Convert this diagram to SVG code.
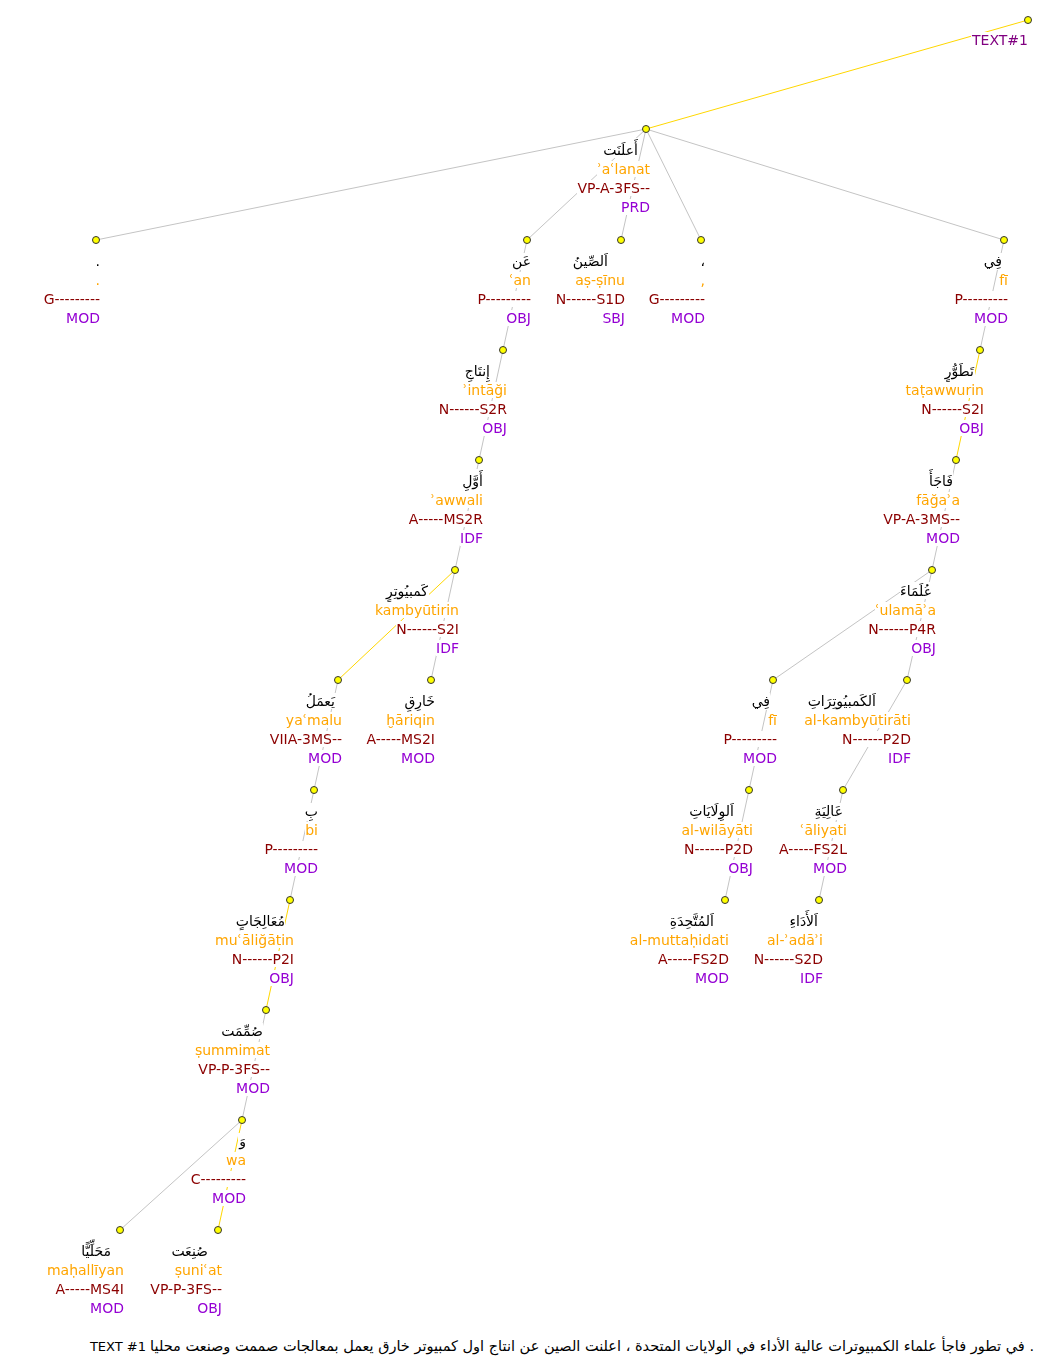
<svg xmlns="http://www.w3.org/2000/svg" width="1043" height="1364" viewBox="0 0 1043 1364">
<defs>
<filter id="bg" x="0" y="0" width="1" height="1" color-interpolation-filters="sRGB"><feFlood flood-color="#ffffff" result="w"/><feMerge><feMergeNode in="w"/><feMergeNode in="SourceGraphic"/></feMerge></filter>
</defs>
<style>
.e{stroke:#c4c4c4;stroke-width:1;fill:none}
.y{stroke:#ffd700}
.d{fill:#ffff00;stroke:#333;stroke-width:1}
.n text{font-family:"DejaVu Sans","Noto Sans",sans-serif;font-size:14px;text-anchor:end;filter:url(#bg)}
.ar{fill:#000}
.tr{fill:#ffa500}
.tg{fill:#8b0000}
.rl{fill:#9400d3}
.rt{fill:#800080}
.s{font-family:"DejaVu Sans","Noto Sans",sans-serif;font-size:13px;text-anchor:end;fill:#000}
.sa{font-size:14.5px}
</style>
<g id="connectors">
<line class="e y" x1="1028" y1="20" x2="646" y2="129"/>
<line class="e" x1="646" y1="129" x2="96" y2="240"/>
<line class="e" x1="646" y1="129" x2="527" y2="240"/>
<line class="e" x1="646" y1="129" x2="621" y2="240"/>
<line class="e" x1="646" y1="129" x2="701" y2="240"/>
<line class="e" x1="646" y1="129" x2="1004" y2="240"/>
<line class="e" x1="527" y1="240" x2="503" y2="350"/>
<line class="e" x1="503" y1="350" x2="479" y2="460"/>
<line class="e" x1="479" y1="460" x2="455" y2="570"/>
<line class="e y" x1="455" y1="570" x2="338" y2="680"/>
<line class="e" x1="455" y1="570" x2="431" y2="680"/>
<line class="e" x1="338" y1="680" x2="314" y2="790"/>
<line class="e" x1="314" y1="790" x2="290" y2="900"/>
<line class="e y" x1="290" y1="900" x2="266" y2="1010"/>
<line class="e" x1="266" y1="1010" x2="242" y2="1120"/>
<line class="e" x1="242" y1="1120" x2="120" y2="1230"/>
<line class="e y" x1="242" y1="1120" x2="218" y2="1230"/>
<line class="e" x1="1004" y1="240" x2="980" y2="350"/>
<line class="e y" x1="980" y1="350" x2="956" y2="460"/>
<line class="e" x1="956" y1="460" x2="932" y2="570"/>
<line class="e" x1="932" y1="570" x2="773" y2="680"/>
<line class="e" x1="932" y1="570" x2="907" y2="680"/>
<line class="e" x1="773" y1="680" x2="749" y2="790"/>
<line class="e" x1="749" y1="790" x2="725" y2="900"/>
<line class="e" x1="907" y1="680" x2="843" y2="790"/>
<line class="e" x1="843" y1="790" x2="819" y2="900"/>
</g>
<g id="root" class="n" transform="translate(1028,20)"><text class="rt" x="0" y="25">TEXT#1</text><circle class="d" r="3.5"/></g>
<g id="n1" class="n" transform="translate(646,129)"><text class="ar" x="-8" y="26">أَعلَنَت</text><text class="tr" x="4" y="45">ʾaʿlanat</text><text class="tg" x="4" y="64">VP-A-3FS--</text><text class="rl" x="4" y="83">PRD</text><circle class="d" r="3.5"/></g>
<g id="n2" class="n" transform="translate(96,240)"><text class="ar" x="4" y="26">.</text><text class="tr" x="4" y="45">.</text><text class="tg" x="4" y="64">G---------</text><text class="rl" x="4" y="83">MOD</text><circle class="d" r="3.5"/></g>
<g id="n3" class="n" transform="translate(527,240)"><text class="ar" x="4" y="26">عَن</text><text class="tr" x="4" y="45">ʿan</text><text class="tg" x="4" y="64">P---------</text><text class="rl" x="4" y="83">OBJ</text><circle class="d" r="3.5"/></g>
<g id="n4" class="n" transform="translate(621,240)"><text class="ar" x="-13" y="26">اَلصِّينُ</text><text class="tr" x="4" y="45">aṣ-ṣīnu</text><text class="tg" x="4" y="64">N------S1D</text><text class="rl" x="4" y="83">SBJ</text><circle class="d" r="3.5"/></g>
<g id="n5" class="n" transform="translate(701,240)"><text class="ar" x="4" y="26">،</text><text class="tr" x="4" y="45">,</text><text class="tg" x="4" y="64">G---------</text><text class="rl" x="4" y="83">MOD</text><circle class="d" r="3.5"/></g>
<g id="n6" class="n" transform="translate(1004,240)"><text class="ar" x="-2" y="26">فِي</text><text class="tr" x="4" y="45">fī</text><text class="tg" x="4" y="64">P---------</text><text class="rl" x="4" y="83">MOD</text><circle class="d" r="3.5"/></g>
<g id="n7" class="n" transform="translate(503,350)"><text class="ar" x="-13" y="26">إِنتَاجِ</text><text class="tr" x="4" y="45">ʾintāği</text><text class="tg" x="4" y="64">N------S2R</text><text class="rl" x="4" y="83">OBJ</text><circle class="d" r="3.5"/></g>
<g id="n8" class="n" transform="translate(479,460)"><text class="ar" x="4" y="26">أَوَّلِ</text><text class="tr" x="4" y="45">ʾawwali</text><text class="tg" x="4" y="64">A-----MS2R</text><text class="rl" x="4" y="83">IDF</text><circle class="d" r="3.5"/></g>
<g id="n9" class="n" transform="translate(455,570)"><text class="ar" x="-27" y="26">كَمبيُوتِرٍ</text><text class="tr" x="4" y="45">kambyūtirin</text><text class="tg" x="4" y="64">N------S2I</text><text class="rl" x="4" y="83">IDF</text><circle class="d" r="3.5"/></g>
<g id="n10" class="n" transform="translate(338,680)"><text class="ar" x="-3" y="26">يَعمَلُ</text><text class="tr" x="4" y="45">yaʿmalu</text><text class="tg" x="4" y="64">VIIA-3MS--</text><text class="rl" x="4" y="83">MOD</text><circle class="d" r="3.5"/></g>
<g id="n11" class="n" transform="translate(431,680)"><text class="ar" x="4" y="26">خَارِقٍ</text><text class="tr" x="4" y="45">ḫāriqin</text><text class="tg" x="4" y="64">A-----MS2I</text><text class="rl" x="4" y="83">MOD</text><circle class="d" r="3.5"/></g>
<g id="n12" class="n" transform="translate(314,790)"><text class="ar" x="4" y="26">بِ</text><text class="tr" x="4" y="45">bi</text><text class="tg" x="4" y="64">P---------</text><text class="rl" x="4" y="83">MOD</text><circle class="d" r="3.5"/></g>
<g id="n13" class="n" transform="translate(290,900)"><text class="ar" x="-5" y="26">مُعَالِجَاتٍ</text><text class="tr" x="4" y="45">muʿāliğātin</text><text class="tg" x="4" y="64">N------P2I</text><text class="rl" x="4" y="83">OBJ</text><circle class="d" r="3.5"/></g>
<g id="n14" class="n" transform="translate(266,1010)"><text class="ar" x="-3" y="26">صُمِّمَت</text><text class="tr" x="4" y="45">ṣummimat</text><text class="tg" x="4" y="64">VP-P-3FS--</text><text class="rl" x="4" y="83">MOD</text><circle class="d" r="3.5"/></g>
<g id="n15" class="n" transform="translate(242,1120)"><text class="ar" x="4" y="26">وَ</text><text class="tr" x="4" y="45">wa</text><text class="tg" x="4" y="64">C---------</text><text class="rl" x="4" y="83">MOD</text><circle class="d" r="3.5"/></g>
<g id="n16" class="n" transform="translate(120,1230)"><text class="ar" x="-9" y="26">مَحَلِّيًّا</text><text class="tr" x="4" y="45">maḥallīyan</text><text class="tg" x="4" y="64">A-----MS4I</text><text class="rl" x="4" y="83">MOD</text><circle class="d" r="3.5"/></g>
<g id="n17" class="n" transform="translate(218,1230)"><text class="ar" x="-10" y="26">صُنِعَت</text><text class="tr" x="4" y="45">ṣuniʿat</text><text class="tg" x="4" y="64">VP-P-3FS--</text><text class="rl" x="4" y="83">OBJ</text><circle class="d" r="3.5"/></g>
<g id="n18" class="n" transform="translate(980,350)"><text class="ar" x="-6" y="26">تَطَوُّرٍ</text><text class="tr" x="4" y="45">taṭawwurin</text><text class="tg" x="4" y="64">N------S2I</text><text class="rl" x="4" y="83">OBJ</text><circle class="d" r="3.5"/></g>
<g id="n19" class="n" transform="translate(956,460)"><text class="ar" x="-3" y="26">فَاجَأَ</text><text class="tr" x="4" y="45">fāğaʾa</text><text class="tg" x="4" y="64">VP-A-3MS--</text><text class="rl" x="4" y="83">MOD</text><circle class="d" r="3.5"/></g>
<g id="n20" class="n" transform="translate(932,570)"><text class="ar" x="0" y="26">عُلَمَاءَ</text><text class="tr" x="4" y="45">ʿulamāʾa</text><text class="tg" x="4" y="64">N------P4R</text><text class="rl" x="4" y="83">OBJ</text><circle class="d" r="3.5"/></g>
<g id="n21" class="n" transform="translate(773,680)"><text class="ar" x="-3" y="26">فِي</text><text class="tr" x="4" y="45">fī</text><text class="tg" x="4" y="64">P---------</text><text class="rl" x="4" y="83">MOD</text><circle class="d" r="3.5"/></g>
<g id="n22" class="n" transform="translate(907,680)"><text class="ar" x="-31" y="26">اَلكَمبيُوتِرَاتِ</text><text class="tr" x="4" y="45">al-kambyūtirāti</text><text class="tg" x="4" y="64">N------P2D</text><text class="rl" x="4" y="83">IDF</text><circle class="d" r="3.5"/></g>
<g id="n23" class="n" transform="translate(749,790)"><text class="ar" x="-15" y="26">اَلوِلَايَاتِ</text><text class="tr" x="4" y="45">al-wilāyāti</text><text class="tg" x="4" y="64">N------P2D</text><text class="rl" x="4" y="83">OBJ</text><circle class="d" r="3.5"/></g>
<g id="n24" class="n" transform="translate(725,900)"><text class="ar" x="-11" y="26">اَلمُتَّحِدَةِ</text><text class="tr" x="4" y="45">al-muttaḥidati</text><text class="tg" x="4" y="64">A-----FS2D</text><text class="rl" x="4" y="83">MOD</text><circle class="d" r="3.5"/></g>
<g id="n25" class="n" transform="translate(843,790)"><text class="ar" x="0" y="26">عَالِيَةِ</text><text class="tr" x="4" y="45">ʿāliyati</text><text class="tg" x="4" y="64">A-----FS2L</text><text class="rl" x="4" y="83">MOD</text><circle class="d" r="3.5"/></g>
<g id="n26" class="n" transform="translate(819,900)"><text class="ar" x="-1" y="26">اَلأَدَاءِ</text><text class="tr" x="4" y="45">al-ʾadāʾi</text><text class="tg" x="4" y="64">N------S2D</text><text class="rl" x="4" y="83">IDF</text><circle class="d" r="3.5"/></g>
<text id="sentence" class="s" x="1034" y="1351">TEXT #1 <tspan class="sa">في تطور فاجأ علماء الكمبيوترات عالية الأداء في الولايات المتحدة ، اعلنت الصين عن انتاج اول كمبيوتر خارق يعمل بمعالجات صممت وصنعت محليا .</tspan></text>
</svg>
